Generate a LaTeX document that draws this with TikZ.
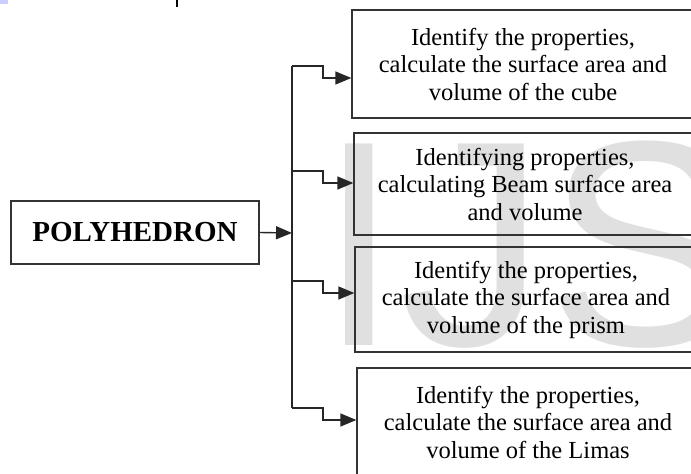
\documentclass[tikz,border=0pt]{standalone}
\usepackage{fontspec}
\setmainfont{Liberation Serif}
\newfontfamily\markfont{Liberation Sans}
\usetikzlibrary{arrows.meta}

\begin{document}
\begin{tikzpicture}[x=1pt, y=-1pt,
        topic/.style={rectangle, draw=black!80, line width=1.3pt, inner sep=0pt,
                      minimum width=248pt, minimum height=63pt,
                      font=\fontsize{29}{32}\selectfont\bfseries},
        task/.style={rectangle, draw=black!80, line width=1.3pt, inner sep=0pt,
                     minimum width=342pt, align=center,
                     font=\fontsize{24.5}{27.5}\selectfont},
        conn/.style={line width=1.4pt, black!85},
        flow/.style={conn, -{Triangle[length=16pt, width=13pt]}}]
      \useasboundingbox (0,0) rectangle (691,474);
      \clip (0,0) rectangle (691,474);
      % page leftovers
      \node[anchor=base west, inner sep=0pt, text=black!12,
            font=\markfont\fontsize{293}{293}\selectfont] (mark) at (318,345) {IJS};
      \fill[blue!20] (0,0) rectangle (8,4);
      \draw[line width=2pt] (177,0) -- (177,7);
      % boxes
      \node[topic] (poly) at (135,232.5) {POLYHEDRON};
      \node[task, minimum height=108pt] (cube) at (523,64)
            {Identify the properties,\\ calculate the surface area and\\ volume of the cube};
      \node[task, minimum height=102pt] (beam) at (525,184)
            {Identifying properties,\\ calculating Beam surface area\\ and volume};
      \node[task, minimum height=105pt] (prism) at (526,299.5)
            {Identify the properties,\\ calculate the surface area and\\ volume of the prism};
      \node[task, minimum height=108pt] (limas) at (528,422)
            {Identify the properties,\\ calculate the surface area and\\ volume of the Limas};
      % connectors
      \coordinate (split) at (292,233);
      \coordinate (trunktop) at (292,66);
      \coordinate (trunkend) at (292,408);
      \draw[flow] (poly.east) -- (split);
      \draw[conn] (trunktop) -- (trunkend);
      \foreach \target/\ya/\yb in {cube/66/78, beam/171/183, prism/281/293, limas/408/420}
        \draw[flow] (292,\ya) -- (323,\ya) -- (323,\yb) -- (\target.west |- 0,\yb);
    \end{tikzpicture}
\end{document}
